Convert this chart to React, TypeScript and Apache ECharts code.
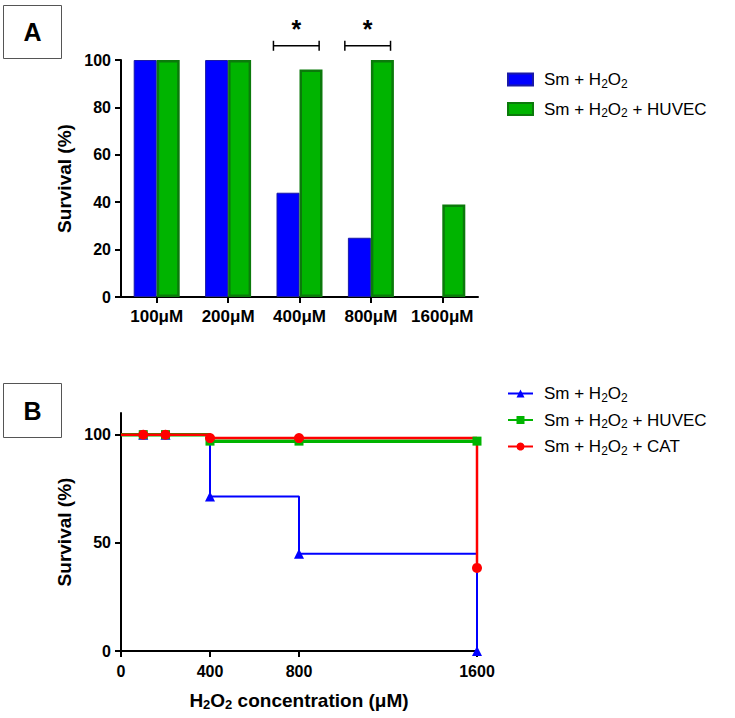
import React, { useEffect, useRef } from "react";
import * as echarts from "echarts";

// ---- Panel A data ----
const catsA = ["100μM", "200μM", "400μM", "800μM", "1600μM"];
const barSm = [100, 100, 44, 25, 0];
const barHuvec = [100, 100, 96, 100, 39];
const sigCats = ["400μM", "800μM"];
const sigLevel = [106, 106];
const yTicksA = [0, 20, 40, 60, 80, 100];

// ---- Panel B data ----
const xB = [0, 100, 200, 400, 800, 1600];
const survSm = [100, 100, 100, 71.4, 44.9, 0];
const survHuvec = [100, 100, 100, 97, 97, 97];
const survCat = [100, 100, 100, 98.4, 98.4, 38.4];
const xTicksB = [0, 400, 800, 1600];
const yTicksB = [0, 50, 100];

const nameSm = "Sm + H2O2";
const nameHuvec = "Sm + H2O2 + HUVEC";
const nameCat = "Sm + H2O2 + CAT";

const FONT = "Liberation Sans, Arial, sans-serif";
const BLUE = "#0000ff";
const GREEN = "#00b400";
const GREEN_DARK = "#0b7a0b";
const RED = "#ff0000";

const subFmt = (name: string) =>
  name.replace(/^[AB]:/, "").replace("H2O2", "H{sub|2}O{sub|2}");

const richSub = (size: number, bold: boolean) => ({
  sub: {
    fontSize: Math.round(size * 0.7),
    fontFamily: FONT,
    fontWeight: bold ? "bold" : "normal",
    color: "#000",
    padding: [Math.round(size * 0.45), 0, 0, 0],
  },
});

export default function App() {
  const ref = useRef<HTMLDivElement>(null);
  useEffect(() => {
    if (!ref.current) return;
    const chart = echarts.init(ref.current, undefined, { renderer: "svg" });
    const axisLine = { show: true, lineStyle: { color: "#000", width: 2 } };
    const axisTick = { show: true, length: 6, lineStyle: { color: "#000", width: 2 } };
    const tickLabel = { color: "#000", fontSize: 16, fontWeight: "bold", fontFamily: FONT };
    const lineData = (ys: number[]) =>
      xB.map((x, i) => (i === 0 ? { value: [x, ys[i]], symbol: "none" } : [x, ys[i]]));
    const barData = (vs: number[]) =>
      vs.map((v) => (v === 0 ? { value: v, itemStyle: { borderWidth: 0 } } : v));

    const option: any = {
      animation: false,
      backgroundColor: "#fff",
      grid: [
        { left: 121, top: 60, width: 357, height: 237 },
        { left: 121, top: 413, width: 356, height: 238 },
      ],
      xAxis: [
        {
          type: "category",
          gridIndex: 0,
          data: catsA,
          axisLine,
          axisTick: { ...axisTick, alignWithLabel: true, interval: 0 },
          axisLabel: { ...tickLabel, fontSize: 17, margin: 11, interval: 0 },
        },
        {
          type: "value",
          gridIndex: 1,
          min: 0,
          max: 1600,
          splitLine: { show: false },
          axisLine,
          axisTick: { ...axisTick, customValues: xTicksB },
          axisLabel: {
            ...tickLabel,
            margin: 12,
            customValues: xTicksB,
            formatter: (v: number) => String(v),
          },
          name: "H{sub|2}O{sub|2} concentration (μM)",
          nameLocation: "middle",
          nameGap: 38,
          nameTextStyle: {
            color: "#000",
            fontSize: 19,
            fontWeight: "bold",
            fontFamily: FONT,
            rich: richSub(19, true),
          },
        },
      ],
      yAxis: [
        {
          type: "value",
          gridIndex: 0,
          min: 0,
          max: 100,
          interval: 20,
          splitLine: { show: false },
          axisLine,
          axisTick: { ...axisTick, customValues: yTicksA },
          axisLabel: { ...tickLabel, margin: 10, customValues: yTicksA },
          name: "Survival (%)",
          nameLocation: "middle",
          nameGap: 47,
          nameTextStyle: { color: "#000", fontSize: 19, fontWeight: "bold", fontFamily: FONT },
        },
        {
          type: "value",
          gridIndex: 1,
          min: 0,
          max: 110,
          splitLine: { show: false },
          axisLine,
          axisTick: { ...axisTick, customValues: yTicksB },
          axisLabel: { ...tickLabel, margin: 10, customValues: yTicksB },
          name: "Survival (%)",
          nameLocation: "middle",
          nameGap: 47,
          nameTextStyle: { color: "#000", fontSize: 19, fontWeight: "bold", fontFamily: FONT },
        },
      ],
      legend: [
        {
          data: ["A:" + nameSm, "A:" + nameHuvec],
          left: 502,
          top: 66,
          orient: "vertical",
          itemWidth: 25,
          itemHeight: 12,
          itemGap: 11,
          icon: "rect",
          formatter: subFmt,
          textStyle: {
            color: "#000",
            fontSize: 17,
            fontFamily: FONT,
            padding: [0, 0, 0, 6],
            rich: richSub(17, false),
          },
          selectedMode: false,
        },
        {
          data: ["B:" + nameSm, "B:" + nameHuvec, "B:" + nameCat],
          left: 502,
          top: 380,
          orient: "vertical",
          itemWidth: 25,
          itemHeight: 10,
          itemGap: 8,
          formatter: subFmt,
          textStyle: {
            color: "#000",
            fontSize: 17,
            fontFamily: FONT,
            padding: [0, 0, 0, 6],
            rich: richSub(17, false),
          },
          selectedMode: false,
        },
      ],
      graphic: [
        {
          type: "rect",
          shape: { x: 3.5, y: 5.5, width: 58, height: 53 },
          style: { fill: "#fff", stroke: "#555", lineWidth: 1 },
        },
        {
          type: "text",
          x: 32.5,
          y: 32,
          style: {
            text: "A",
            fontSize: 25,
            fontWeight: "bold",
            fontFamily: FONT,
            fill: "#000",
            align: "center",
            verticalAlign: "middle",
          },
        },
        {
          type: "rect",
          shape: { x: 3.5, y: 383.5, width: 58, height: 54 },
          style: { fill: "#fff", stroke: "#555", lineWidth: 1 },
        },
        {
          type: "text",
          x: 32.5,
          y: 411,
          style: {
            text: "B",
            fontSize: 25,
            fontWeight: "bold",
            fontFamily: FONT,
            fill: "#000",
            align: "center",
            verticalAlign: "middle",
          },
        },
      ],
      series: [
        {
          name: "A:" + nameSm,
          type: "bar",
          xAxisIndex: 0,
          yAxisIndex: 0,
          data: barData(barSm),
          barWidth: 23,
          barGap: "0%",
          itemStyle: { color: BLUE, borderColor: "#1a1aa6", borderWidth: 1 },
        },
        {
          name: "A:" + nameHuvec,
          type: "bar",
          xAxisIndex: 0,
          yAxisIndex: 0,
          data: barData(barHuvec),
          barWidth: 23,
          barGap: "0%",
          itemStyle: { color: GREEN, borderColor: GREEN_DARK, borderWidth: 2.5 },
        },
        {
          name: "sig",
          type: "custom",
          xAxisIndex: 0,
          yAxisIndex: 0,
          z: 5,
          clip: false,
          data: sigCats.map((c, i) => [c, sigLevel[i]]),
          renderItem: (params: any, api: any) => {
            const c = api.coord([api.value(0), api.value(1)]);
            const bw = api.size([1, 0])[0];
            const cx = c[0] - 0.045 * bw;
            const half = 0.32 * bw;
            const y = c[1];
            const st = { stroke: "#000", lineWidth: 1.5 };
            return {
              type: "group",
              children: [
                { type: "line", shape: { x1: cx - half, y1: y, x2: cx + half, y2: y }, style: st },
                { type: "line", shape: { x1: cx - half, y1: y - 5, x2: cx - half, y2: y + 5 }, style: st },
                { type: "line", shape: { x1: cx + half, y1: y - 5, x2: cx + half, y2: y + 5 }, style: st },
                {
                  type: "text",
                  x: cx,
                  y: y - 4,
                  style: {
                    text: "*",
                    fontSize: 25,
                    fontWeight: "bold",
                    fontFamily: FONT,
                    fill: "#000",
                    align: "center",
                    verticalAlign: "bottom",
                  },
                },
              ],
            };
          },
        },
        {
          name: "B:" + nameSm,
          type: "line",
          xAxisIndex: 1,
          yAxisIndex: 1,
          step: "end",
          data: lineData(survSm),
          symbol: "triangle",
          symbolSize: 10,
          color: BLUE,
          lineStyle: { color: BLUE, width: 2 },
          itemStyle: { color: BLUE },
        },
        {
          name: "B:" + nameHuvec,
          type: "line",
          xAxisIndex: 1,
          yAxisIndex: 1,
          step: "end",
          data: lineData(survHuvec),
          symbol: "rect",
          symbolSize: 9,
          color: GREEN,
          lineStyle: { color: GREEN, width: 3.5 },
          itemStyle: { color: GREEN },
        },
        {
          name: "B:" + nameCat,
          type: "line",
          xAxisIndex: 1,
          yAxisIndex: 1,
          step: "end",
          data: lineData(survCat),
          symbol: "circle",
          symbolSize: 10,
          color: RED,
          lineStyle: { color: RED, width: 2.5 },
          itemStyle: { color: RED },
        },
      ],
    };
    chart.setOption(option);
    return () => chart.dispose();
  }, []);
  return (
    <div
      ref={ref}
      style={{ position: "fixed", left: 0, top: 0, width: 735, height: 718, background: "#fff" }}
    />
  );
}
